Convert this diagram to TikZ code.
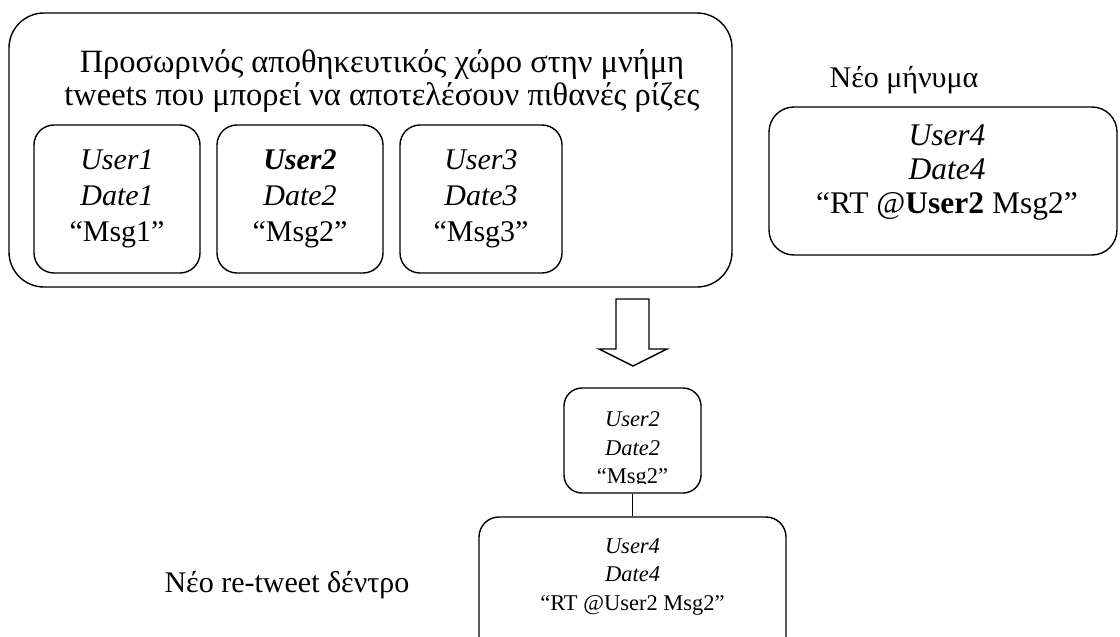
\documentclass[tikz,border=0pt]{standalone}
\usepackage{fontspec}
\setmainfont{Liberation Serif}
\begin{document}
\begin{tikzpicture}[x=1pt,y=-1pt,
  box/.style={draw, line width=1.4pt, rounded corners=#1, inner sep=0pt},
  box/.default=20pt,
  big/.style={font=\fontsize{30}{36}\selectfont, align=center, inner sep=0pt},
  head/.style={font=\fontsize{32.5}{33}\selectfont, align=center, inner sep=0pt},
  label/.style={font=\fontsize{30}{32}\selectfont, align=center, inner sep=0pt},
  msg/.style={font=\fontsize{31.5}{34}\selectfont, align=center, inner sep=0pt},
  small/.style={font=\fontsize{22.5}{28.5}\selectfont, align=center, inner sep=0pt},
  link/.style={line width=1.4pt}]
  % page
  \fill[white] (0,0) rectangle (1120,637);
  \useasboundingbox (0,0) rectangle (1120,637);
  \clip (0,0) rectangle (1120,637);

  % buffer of candidate roots
  \node[box=35pt, minimum width=723pt, minimum height=274pt] (buffer) at (370.5,150) {};
  \node[head] (bufferlabel) at (382,81)
    {Προσωρινός αποθηκευτικός χώρο στην μνήμη\\tweets που μπορεί να αποτελέσουν πιθανές ρίζες};
  \node[box, big, minimum width=166pt, minimum height=148pt] (t1) at (117,199)
    {\textit{User1}\\\textit{Date1}\\“Msg1”};
  \node[box, big, minimum width=166pt, minimum height=148pt] (t2) at (300,199)
    {\textbf{\textit{User2}}\\\textit{Date2}\\“Msg2”};
  \node[box, big, minimum width=162pt, minimum height=148pt] (t3) at (481,199)
    {\textit{User3}\\\textit{Date3}\\“Msg3”};

  % incoming message
  \node[label] (newlabel) at (904,80) {Νέο μήνυμα};
  \node[box=25pt, minimum width=348pt, minimum height=148pt] (new) at (943,181) {};
  \node[msg] (newtext) at (947,173)
    {\textit{User4}\\\textit{Date4}\\“RT @\textbf{User2} Msg2”};

  % transition arrow
  \draw[line width=1.4pt, line join=miter]
    (616,299) -- (649,299) -- (649,349) -- (667,349) -- (633,366)
    -- (599,349) -- (616,349) -- cycle;

  % resulting re-tweet tree
  \node[box=18pt, minimum width=137pt, minimum height=105pt] (root) at (632.5,440.5) {};
  \begin{scope}
    \clip (566,390) rectangle (699,483);
    \node[small] (roottext) at (632.5,450) {\textit{User2}\\\textit{Date2}\\“Msg2”};
  \end{scope}
  \node[box=20pt, minimum width=307pt, minimum height=140pt] (child) at (632.5,587) {};
  \node[small] (childtext) at (632.5,577) {\textit{User4}\\\textit{Date4}\\“RT @User2 Msg2”};
  \draw[link] (root.south) -- (child.north);

  \node[label] (treelabel) at (287,585) {Νέο re-tweet δέντρο};
\end{tikzpicture}
\end{document}
